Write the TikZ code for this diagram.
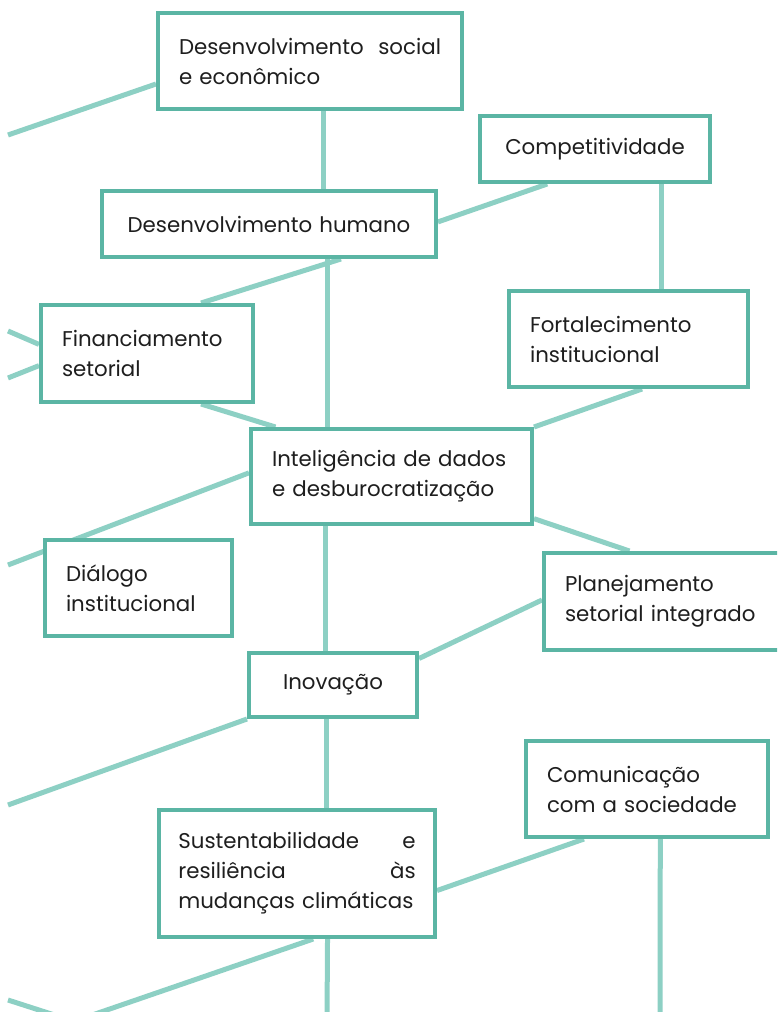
\documentclass[tikz,border=0pt]{standalone}
\usepackage{fontspec}
\setmainfont{Poppins}
\usetikzlibrary{calc,backgrounds}
\definecolor{boxteal}{RGB}{91,181,164}
\definecolor{lineteal}{RGB}{141,208,196}
\definecolor{txtgray}{RGB}{30,30,30}
\tikzset{every picture/.style={line width=0.75pt}}

\begin{document}
\begin{tikzpicture}[x=0.75pt,y=0.75pt,yscale=-1,xscale=1,
  box/.style={draw=boxteal, line width=3pt, fill=white, text=txtgray, inner xsep=15.75pt, inner ysep=0pt, font=\fontsize{16}{22.5}\selectfont},
  link/.style={draw=lineteal, line width=3.75pt}]
\clip (0,0) rectangle (777,1012);

%Shape: Boxes
\node [box, minimum width=228pt, minimum height=72pt, text width=196.5pt, align=left] (soc) at (310,61) {Desenvolvimento\hfill social\\e econômico};
\node [box, minimum width=250.5pt, minimum height=49.5pt, text width=219pt, align=center] (hum) at (269,224) {Desenvolvimento humano};
\node [box, minimum width=172.5pt, minimum height=49.5pt, text width=141pt, align=center] (comp) at (595,149) {Competitividade};
\node [box, minimum width=179.25pt, minimum height=72pt, text width=147.75pt, align=left] (fort) at (628.5,339) {Fortalecimento\\institucional};
\node [box, minimum width=159pt, minimum height=72.75pt, text width=127.5pt, align=left] (fin) at (147,353.5) {Financiamento\\setorial};
\node [box, minimum width=210.75pt, minimum height=71.25pt, text width=179.25pt, align=left] (intel) at (391.5,476.5) {Inteligência de dados\\e desburocratização};
\node [box, minimum width=140.25pt, minimum height=72pt, text width=108.75pt, align=left] (dial) at (138.5,588) {Diálogo\\institucional};
\node [box, minimum width=184.5pt, minimum height=72.75pt, text width=153pt, align=left] (plan) at (667,601.5) {Planejamento\\setorial integrado};
\node [box, minimum width=126pt, minimum height=48pt, text width=94.5pt, align=center] (inov) at (333,685) {Inovação};
\node [box, minimum width=181.5pt, minimum height=72pt, text width=150pt, align=left] (com) at (647,789) {Comunicação\\com a sociedade};
\node [box, inner xsep=14.5pt, minimum width=207pt, minimum height=95.25pt, text width=178pt, align=left] (sus) at (297,873.5) {Sustentabilidade\hfill e\\resiliência\hfill às\\\mbox{mudanças climáticas}};

%Free ends
\coordinate (l1) at (8,135);
\coordinate (l2) at (8,331);
\coordinate (l3) at (8,378);
\coordinate (l4) at (8,565);
\coordinate (l5) at (8,805);
\coordinate (l6) at (8,1000);
\coordinate (l7) at (70,1020);
\coordinate (l8) at (8,1044);
\coordinate (b1) at (327,1020);
\coordinate (b2) at (660,1020);

%Straight Lines
\begin{pgfonlayer}{background}
\draw [link] (l1) -- ($(soc.north west)!0.73!(soc.south west)$);
\draw [link] ($(hum.north west)!0.662!(hum.north east)$) coordinate (v1) -- (v1 |- soc.south);
\draw [link] ($(hum.north east)!0.47!(hum.south east)$) -- ($(comp.south west)!0.296!(comp.south east)$);
\draw [link] ($(comp.south west)!0.783!(comp.south east)$) coordinate (v2) -- (v2 |- fort.north);
\draw [link] ($(hum.south west)!0.713!(hum.south east)$) -- ($(fin.north west)!0.75!(fin.north east)$);
\draw [link] ($(hum.south west)!0.674!(hum.south east)$) coordinate (v3) -- (v3 |- intel.north);
\draw [link] (l2) -- ($(fin.north west)!0.41!(fin.south west)$);
\draw [link] (l3) -- ($(fin.north west)!0.62!(fin.south west)$);
\draw [link] ($(fin.south west)!0.75!(fin.south east)$) -- ($(intel.north west)!0.093!(intel.north east)$);
\draw [link] ($(intel.north west)!0.463!(intel.south west)$) -- (l4);
\draw [link] ($(fort.south west)!0.556!(fort.south east)$) -- (intel.north east);
\draw [link] ($(intel.north east)!0.926!(intel.south east)$) -- ($(plan.north west)!0.35!(plan.north east)$);
\draw [link] ($(intel.south west)!0.27!(intel.south east)$) coordinate (v4) -- (v4 |- inov.north);
\draw [link] ($(plan.north west)!0.485!(plan.south west)$) -- ($(inov.north east)!0.11!(inov.south east)$);
\draw [link] (inov.south west) -- (l5);
\draw [link] ($(inov.south west)!0.464!(inov.south east)$) coordinate (v5) -- (v5 |- sus.north);
\draw [link] ($(com.south west)!0.244!(com.south east)$) -- ($(sus.north east)!0.63!(sus.south east)$);
\draw [link] ($(com.south west)!0.554!(com.south east)$) -- (b2);
\draw [link] ($(sus.south west)!0.558!(sus.south east)$) -- (l8);
\draw [link] ($(sus.south west)!0.609!(sus.south east)$) -- (b1);
\draw [link] (l6) -- (l7);
\end{pgfonlayer}

\end{tikzpicture}
\end{document}
